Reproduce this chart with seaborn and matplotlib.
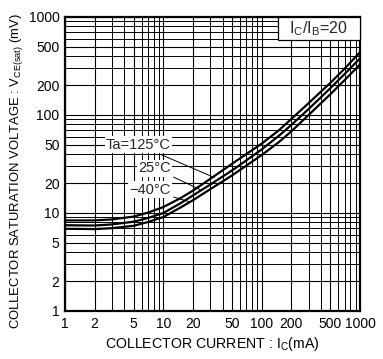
import numpy as np
import pandas as pd
import matplotlib
matplotlib.use("Agg")
import matplotlib.pyplot as plt
import seaborn as sns
from matplotlib.patches import Rectangle
from matplotlib.ticker import FixedLocator, FixedFormatter, LogLocator, NullFormatter

sns.set_theme(style="white")
plt.rcParams['font.family'] = ['Liberation Sans', 'DejaVu Sans']
plt.rcParams['mathtext.fontset'] = 'custom'
plt.rcParams['mathtext.rm'] = 'Liberation Sans'

# Data
current_ma = [1, 2, 3, 5, 7, 10, 15, 20, 30, 50, 70, 100, 150, 200, 300, 500, 700, 1000]
vce_125 = [8.4, 8.4, 8.6, 9.2, 10.1, 11.5, 14.2, 16.9, 22.3, 31.8, 40, 51, 70, 91, 132, 213, 298, 437]
vce_25 = [7.5, 7.45, 7.65, 8.15, 8.9, 10.0, 12.6, 15.1, 19.5, 27.2, 34.5, 44.5, 61.5, 79, 115, 188, 263, 378]
vce_m40 = [6.9, 6.85, 7.0, 7.4, 8.1, 9.1, 11.4, 13.5, 17.5, 24.2, 30.5, 39, 53, 68, 100, 163, 228, 328]
temps = ["125°C", "25°C", "−40°C"]
tick_vals = [1, 2, 5, 10, 20, 50, 100, 200, 500, 1000]
tick_labels = ["1", "2", "5", "10", "20", "50", "100", "200", "500", "1000"]

df = pd.DataFrame({
    "Ic": current_ma * 3,
    "Vce": vce_125 + vce_25 + vce_m40,
    "Ta": [temps[0]] * len(current_ma) + [temps[1]] * len(current_ma) + [temps[2]] * len(current_ma),
})

fig = plt.figure(figsize=(3.83, 3.59), dpi=100)
ax = fig.add_axes([65/383, 1 - 311/359, 295/383, 294/359])

sns.lineplot(data=df, x="Ic", y="Vce", hue="Ta", palette=["black"] * 3,
             linewidth=1.6, legend=False, ax=ax, zorder=3)

ax.set_xscale("log")
ax.set_yscale("log")
ax.set_xlim(1, 1000)
ax.set_ylim(1, 1000)

for axis in (ax.xaxis, ax.yaxis):
    axis.set_major_locator(FixedLocator(tick_vals))
    axis.set_major_formatter(FixedFormatter(tick_labels))
    axis.set_minor_locator(LogLocator(base=10, subs=np.arange(2, 10)))
    axis.set_minor_formatter(NullFormatter())

ax.grid(True, which="major", color="black", linewidth=0.8)
ax.grid(True, which="minor", color="black", linewidth=0.7)
ax.set_axisbelow(True)
ax.tick_params(which="both", length=0, labelsize=10, colors="black", pad=4)

for s in ax.spines.values():
    s.set_color("black")
    s.set_linewidth(1.6)
    s.set_zorder(5)

ax.set_xlabel(r"COLLECTOR CURRENT : I$_{\mathregular{C}}$(mA)", fontsize=10.2, color="black", labelpad=3)
ax.set_ylabel(r"COLLECTOR SATURATION VOLTAGE : V$_{\mathregular{CE(sat)}}$ (mV)", fontsize=9.4, color="black")
ax.yaxis.set_label_coords(-0.135, 0.476)

bb = dict(facecolor="white", edgecolor="none", pad=1.0)
arrow = dict(arrowstyle="-", color="black", lw=0.7, shrinkA=1, shrinkB=0)
ax.annotate("Ta=125°C", xy=(33, 23.0), xytext=(0.359, 0.565), textcoords="axes fraction",
            fontsize=10.5, va="center", ha="right", bbox=bb, zorder=6, arrowprops=arrow)
ax.annotate("25°C", xy=(24, 17.2), xytext=(0.359, 0.486), textcoords="axes fraction",
            fontsize=10.5, va="center", ha="right", bbox=bb, zorder=6, arrowprops=arrow)
ax.annotate("−40°C", xy=(18.5, 13.0), xytext=(0.359, 0.412), textcoords="axes fraction",
            fontsize=10.5, va="center", ha="right", bbox=bb, zorder=6, arrowprops=arrow)

ax.add_patch(Rectangle((0.722, 0.922), 0.278, 0.078, transform=ax.transAxes,
                       facecolor="white", edgecolor="black", linewidth=0.9, zorder=6, clip_on=False))
ax.text(0.859, 0.960, r"I$_{\mathregular{C}}$/I$_{\mathregular{B}}$=20", transform=ax.transAxes,
        fontsize=11.5, ha="center", va="center", zorder=7)

fig.savefig("out.png", dpi=100)
